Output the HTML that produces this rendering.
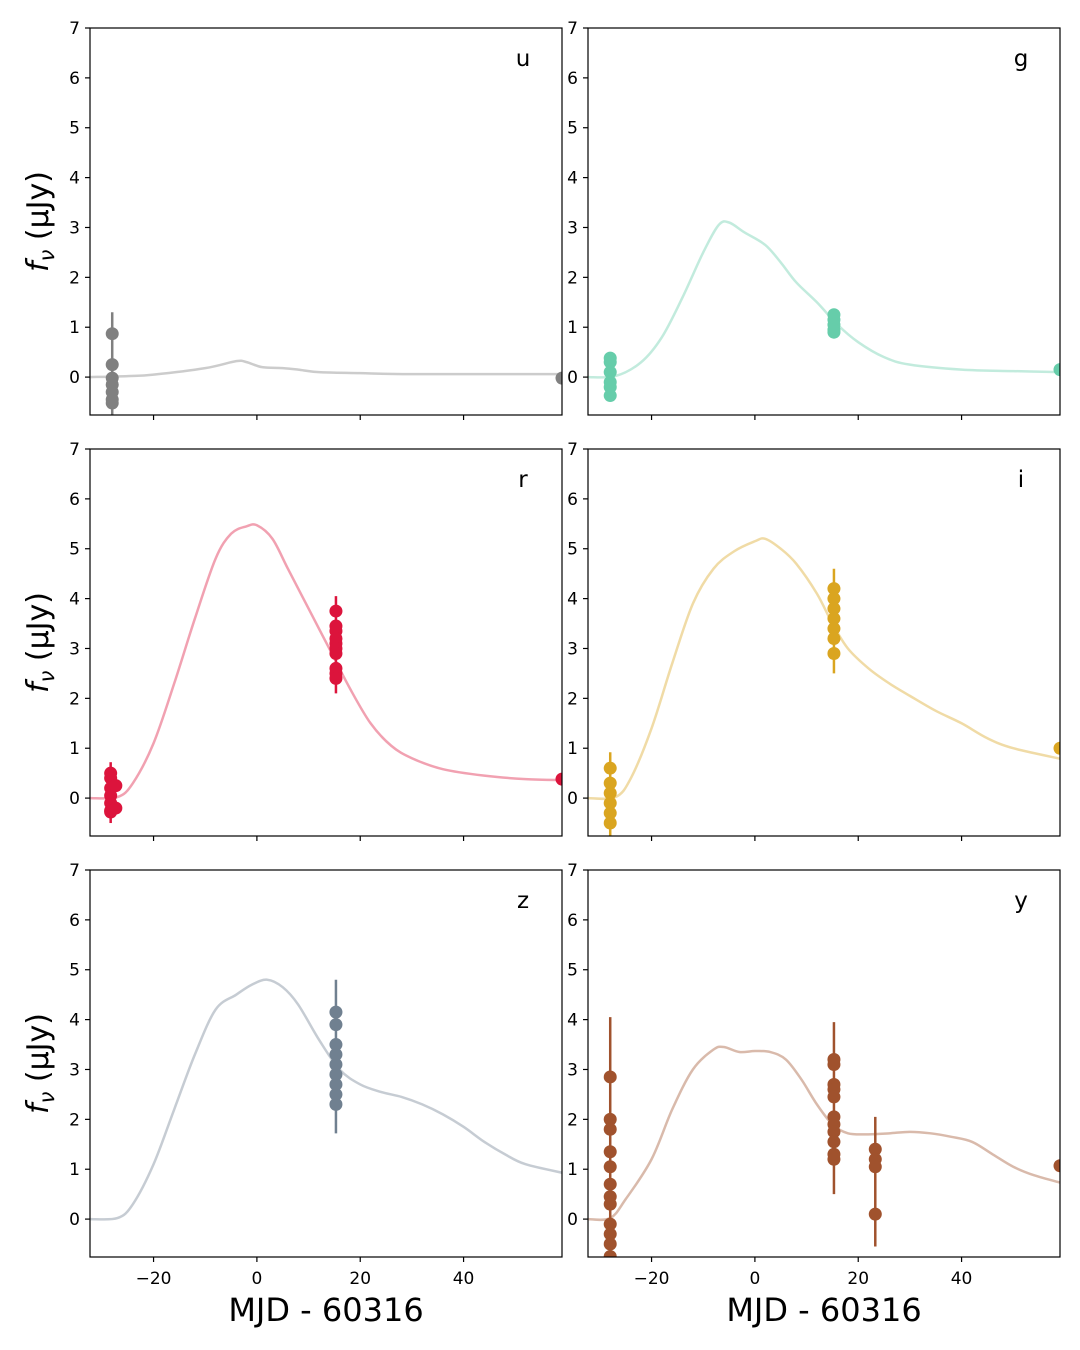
<!DOCTYPE html>
<html><head><meta charset="utf-8"><style>
html,body{margin:0;padding:0;background:#fff;}
svg{display:block;font-family:"DejaVu Sans","Liberation Sans",sans-serif;}
</style></head><body>
<svg id="chart" width="1080" height="1350" xmlns="http://www.w3.org/2000/svg"></svg>
<script>
const bands=['u','g','r','i','z','y'];
const pointColors=['#808080','#66cdaa','#dc143c','#daa520','#708090','#a0522d'];
const xTicks=[-20,0,20,40];
const yTicks=[0,1,2,3,4,5,6,7];
const curveU=[[-32.3,0],[-25,0.02],[-20,0.05],[-10,0.18],[-4,0.32],[-2,0.3],[1,0.2],[5,0.18],[8,0.15],[12,0.1],[20,0.08],[30,0.06],[59.5,0.06]];
const curveG=[[-32.3,0],[-27,0.02],[-22,0.3],[-18,0.8],[-14,1.6],[-10,2.5],[-7,3.05],[-5,3.1],[-2,2.9],[2,2.65],[5,2.3],[8,1.9],[12,1.5],[16,1.05],[20,0.7],[25,0.4],[30,0.25],[40,0.15],[50,0.12],[59.5,0.1]];
const curveR=[[-32.3,0],[-27,0.02],[-24,0.3],[-20,1.1],[-16,2.3],[-12,3.6],[-8,4.8],[-5,5.3],[-2,5.45],[0,5.47],[3,5.2],[6,4.6],[10,3.8],[14,3.0],[18,2.2],[22,1.5],[26,1.05],[30,0.8],[36,0.58],[44,0.45],[52,0.38],[59.5,0.36]];
const curveI=[[-32.3,0],[-27,0.02],[-24,0.4],[-20,1.4],[-16,2.7],[-12,3.9],[-8,4.6],[-4,4.95],[0,5.15],[2,5.2],[5,5.0],[8,4.7],[12,4.1],[15,3.5],[18,3.0],[22,2.6],[26,2.3],[30,2.05],[35,1.75],[40,1.5],[45,1.2],[50,1.0],[59.5,0.78]];
const curveZ=[[-32.3,0],[-27,0.02],[-24,0.3],[-20,1.1],[-16,2.2],[-12,3.3],[-8,4.2],[-4,4.5],[-1,4.7],[2,4.8],[5,4.65],[8,4.3],[12,3.6],[16,3.0],[20,2.7],[24,2.55],[28,2.45],[32,2.3],[36,2.1],[40,1.85],[44,1.55],[48,1.3],[52,1.1],[59.5,0.92]];
const curveY=[[-32.3,0],[-28,0.02],[-25,0.4],[-20,1.2],[-16,2.2],[-12,3.0],[-8,3.4],[-6,3.45],[-3,3.35],[0,3.37],[3,3.35],[6,3.2],[9,2.8],[12,2.3],[15,1.9],[18,1.72],[22,1.7],[26,1.72],[30,1.75],[34,1.72],[38,1.65],[42,1.55],[46,1.3],[50,1.05],[54,0.88],[59.5,0.72]];
// groups: [time, errLow, errHigh, values]
const obsU=[[-28,-0.75,1.3,[0.87,0.25,-0.02,-0.15,-0.3,-0.45,-0.52]],[59.05,-0.02,-0.02,[-0.02]]];
const obsG=[[-28,-0.45,0.45,[0.38,0.3,0.1,-0.1,-0.2,-0.37]],[15.3,0.82,1.35,[1.25,1.15,1.05,0.95,0.9]],[59.05,0.15,0.15,[0.15]]];
const obsR=[[-28.3,-0.5,0.72,[0.5,0.4,0.2,0.05,-0.1,-0.25,-0.28]],[-27.3,0.25,0.25,[0.25,-0.2]],[15.3,2.1,4.05,[3.75,3.45,3.35,3.2,3.1,3.0,2.9,2.6,2.5,2.4]],[59.05,0.38,0.38,[0.38]]];
const obsI=[[-28,-0.8,0.92,[0.6,0.3,0.1,-0.1,-0.3,-0.5]],[15.3,2.5,4.6,[4.2,4.0,3.8,3.6,3.4,3.2,2.9]],[59.05,1.0,1.0,[1.0]]];
const obsZ=[[15.3,1.72,4.8,[4.15,3.9,3.5,3.3,3.1,2.9,2.7,2.5,2.3]]];
const obsY=[[-28,-0.8,4.05,[2.85,2.0,1.8,1.35,1.05,0.7,0.45,0.3,-0.1,-0.3,-0.5,-0.75]],[15.3,0.5,3.95,[3.2,3.1,2.7,2.6,2.45,2.05,1.9,1.75,1.55,1.3,1.2]],[23.3,-0.55,2.05,[1.4,1.2,1.05,0.1]],[59.05,1.07,1.07,[1.07]]];
const curves=[curveU,curveG,curveR,curveI,curveZ,curveY];
const obs=[obsU,obsG,obsR,obsI,obsZ,obsY];

const NS='http://www.w3.org/2000/svg';
const svg=document.getElementById('chart');
function mk(tag,attrs,parent){const e=document.createElementNS(NS,tag);for(const k in attrs)e.setAttribute(k,attrs[k]);(parent||svg).appendChild(e);return e;}
const colL=[90,588], W=472, rowT=[28,449,870], H=387;
const xMin=-32.3,xMax=59.05,yMin=-0.76,yMax=7;
bands.forEach((b,idx)=>{
  const col=idx%2,row=Math.floor(idx/2);
  const L=colL[col],T=rowT[row];
  const sx=t=>L+(t-xMin)/(xMax-xMin)*W;
  const sy=v=>T+(yMax-v)/(yMax-yMin)*H;
  const g=mk('g',{});
  
  
  const cp=mk('clipPath',{id:'clip'+idx},g);
  mk('rect',{x:L,y:T,width:W,height:H},cp);
  const inner=mk('g',{'clip-path':'url(#clip'+idx+')'},g);
  const pts=curves[idx].map(p=>[sx(p[0]),sy(p[1])]);
  let d='M'+pts[0][0]+','+pts[0][1];
  for(let i=0;i<pts.length-1;i++){
    const p0=pts[Math.max(0,i-1)],p1=pts[i],p2=pts[i+1],p3=pts[Math.min(pts.length-1,i+2)];
    d+=' C'+(p1[0]+(p2[0]-p0[0])/6)+','+(p1[1]+(p2[1]-p0[1])/6)+' '+(p2[0]-(p3[0]-p1[0])/6)+','+(p2[1]-(p3[1]-p1[1])/6)+' '+p2[0]+','+p2[1];
  }
  const c=mk('path',{d:d,fill:'none',stroke:pointColors[idx],'stroke-opacity':0.4,'stroke-width':2.5},inner);
  
  
  obs[idx].forEach(gr=>{
    if(gr[2]>gr[1]){
      const e=mk('line',{x1:sx(gr[0]),x2:sx(gr[0]),y1:sy(gr[1]),y2:sy(gr[2]),stroke:pointColors[idx],'stroke-width':2.5},inner);
      
      
    }
    gr[3].forEach(v=>{
      const p=mk('circle',{cx:sx(gr[0]),cy:sy(v),r:6.5,fill:pointColors[idx]},inner);
      
      
    });
  });
  mk('rect',{x:L,y:T,width:W,height:H,fill:'none',stroke:'#000','stroke-width':1.2},g);
  yTicks.forEach(v=>{
    mk('line',{x1:L-5,x2:L,y1:sy(v),y2:sy(v),stroke:'#000','stroke-width':1.2},g);
    const t=mk('text',{x:L-10,y:sy(v)+6,'text-anchor':'end','font-size':17},g);
    t.textContent=v;
    
    
  });
  xTicks.forEach(v=>{
    mk('line',{x1:sx(v),x2:sx(v),y1:T+H,y2:T+H+5,stroke:'#000','stroke-width':1.2},g);
    if(row===2){
      const t=mk('text',{x:sx(v),y:T+H+27,'text-anchor':'middle','font-size':17},g);
      t.textContent=v<0?'\u2212'+Math.abs(v):v;
      
      
    }
  });
  const bl=mk('text',{x:L+W-39,y:T+38,'text-anchor':'middle','font-size':23},g);
  bl.textContent=b;
  
  
  if(col===0){
    const yl=mk('text',{x:0,y:0,'text-anchor':'middle','font-size':30,transform:'translate(48,'+(T+H/2)+') rotate(-90)'},g);
    yl.innerHTML='<tspan font-style="italic">f</tspan><tspan font-style="italic" font-size="21" dy="6">ν</tspan><tspan dy="-6"> (μJy)</tspan>';
    
    
  }
  if(row===2){
    const xl=mk('text',{x:L+W/2,y:1321,'text-anchor':'middle','font-size':32},g);
    xl.textContent='MJD - 60316';
    
    
  }
});
</script>
</body></html>
